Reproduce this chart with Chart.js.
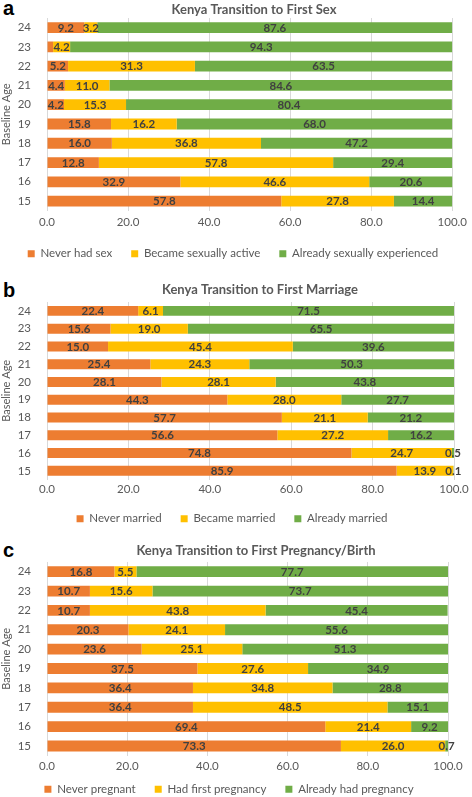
<!DOCTYPE html>
<html>
<head>
<meta charset="utf-8">
<script src="https://cdn.jsdelivr.net/npm/chart.js@4/dist/chart.umd.min.js"></script>
<style>
  html, body { margin: 0; padding: 0; background: #fff; overflow: hidden; }
  body { width: 472px; height: 797px; position: relative; }
  .panel { position: absolute; left: 0; width: 472px; }
  .tag { position: absolute; left: 3px; font: bold 20px 'Liberation Sans', Arial, sans-serif; color: #000; }
</style>
</head>
<body>
<div class="tag" style="top:-3px">a</div>
<div class="tag" style="top:279px">b</div>
<div class="tag" style="top:539px">c</div>
<div class="panel" style="top:0;height:275px"><canvas id="sexChart"></canvas></div>
<div class="panel" style="top:272px;height:268px"><canvas id="marriageChart"></canvas></div>
<div class="panel" style="top:535px;height:283px"><canvas id="pregnancyChart"></canvas></div>
<script>
const ages = ['24', '23', '22', '21', '20', '19', '18', '17', '16', '15'];
const xTicks = [0, 20, 40, 60, 80, 100];

// a - first sex
const neverSex = [9.2, 1.5, 5.2, 4.4, 4.2, 15.8, 16.0, 12.8, 32.9, 57.8];
const becameActive = [3.2, 4.2, 31.3, 11.0, 15.3, 16.2, 36.8, 57.8, 46.6, 27.8];
const alreadySex = [87.6, 94.3, 63.5, 84.6, 80.4, 68.0, 47.2, 29.4, 20.6, 14.4];

// b - first marriage
const neverMarried = [22.4, 15.6, 15.0, 25.4, 28.1, 44.3, 57.7, 56.6, 74.8, 85.9];
const becameMarried = [6.1, 19.0, 45.4, 24.3, 28.1, 28.0, 21.1, 27.2, 24.7, 13.9];
const alreadyMarried = [71.5, 65.5, 39.6, 50.3, 43.8, 27.7, 21.2, 16.2, 0.5, 0.1];

// c - first pregnancy
const neverPregnant = [16.8, 10.7, 10.7, 20.3, 23.6, 37.5, 36.4, 36.4, 69.4, 73.3];
const firstPregnancy = [5.5, 15.6, 43.8, 24.1, 25.1, 27.6, 34.8, 48.5, 21.4, 26.0];
const alreadyPregnant = [77.7, 73.7, 45.4, 55.6, 51.3, 34.9, 28.8, 15.1, 9.2, 0.7];

const colors = ['#ED7D31', '#FFC000', '#70AD47'];
const grey = '#595959';

Chart.defaults.font.family = 'Lato';
Chart.defaults.color = grey;

// value labels inside the segments
const barLabels = {
    id: 'barLabels',
    afterDatasetsDraw(chart, args, opts) {
        const ctx = chart.ctx;
        const hide = opts.hide || [];
        ctx.save();
        ctx.font = 'bold 11.5px Lato';
        ctx.fillStyle = '#404040';
        ctx.textAlign = 'center';
        ctx.textBaseline = 'middle';
        chart.data.datasets.forEach((ds, i) => {
            chart.getDatasetMeta(i).data.forEach((bar, j) => {
                if (hide.includes(i + '-' + j)) return;
                ctx.fillText(ds.data[j].toFixed(1), (bar.x + bar.base) / 2, bar.y + 0.5);
            });
        });
        ctx.restore();
    },
};

// move title / legend a bit like the excel original
const nudge = {
    id: 'nudge',
    afterLayout(chart, args, opts) {
        const t = chart.titleBlock;
        const l = chart.legend;
        if (t) {
            t.left += opts.titleX;
            t.right += opts.titleX;
        }
        if (l) {
            l.top -= opts.legendUp;
            l.bottom -= opts.legendUp;
            l.left += opts.legendX;
            l.right += opts.legendX;
        }
    },
};

function makeChart(id, cfg) {
    const ctx = document.getElementById(id).getContext('2d');
    return new Chart(ctx, {
        type: 'bar',
        data: {
            labels: ages,
            datasets: cfg.names.map((name, i) => ({
                label: name,
                data: cfg.series[i],
                backgroundColor: colors[i],
                categoryPercentage: 1,
                barPercentage: 0.56,
            })),
        },
        options: {
            indexAxis: 'y',
            responsive: true,
            maintainAspectRatio: false,
            animation: false,
            layout: { padding: { top: 0, right: cfg.padRight, bottom: 0, left: 0 } },
            plugins: {
                title: {
                    display: true,
                    text: cfg.title,
                    color: grey,
                    font: { size: 13, weight: 'bold' },
                    padding: { top: cfg.titleTop, bottom: cfg.titleBottom },
                },
                legend: {
                    position: 'bottom',
                    labels: { boxWidth: 7, boxHeight: 7, padding: 19, color: grey, font: { size: 11.5 } },
                },
                tooltip: { enabled: false },
                barLabels: { hide: cfg.hide || [] },
                nudge: { titleX: cfg.titleX, legendUp: cfg.legendUp, legendX: 5 },
            },
            scales: {
                x: {
                    stacked: true,
                    min: 0,
                    max: 100,
                    afterBuildTicks: (scale) => {
                        scale.ticks = xTicks.map((v) => ({ value: v }));
                    },
                    ticks: {
                        padding: cfg.tickPad,
                        color: grey,
                        font: { size: 11.5 },
                        callback: (v) => Number(v).toFixed(1),
                    },
                    grid: { color: '#D9D9D9', drawTicks: false },
                    border: { display: false },
                },
                y: {
                    stacked: true,
                    afterFit: (scale) => {
                        scale.width = 47;
                    },
                    ticks: { padding: 8, color: grey, font: { size: 11.5 }, autoSkip: false },
                    grid: { display: false },
                    border: { display: false },
                    title: {
                        display: true,
                        text: 'Baseline Age',
                        color: grey,
                        font: { size: 11 },
                        padding: { top: 0, bottom: 0 },
                    },
                },
            },
        },
        plugins: [barLabels, nudge],
    });
}

makeChart('sexChart', {
    title: 'Kenya Transition to First Sex',
    names: ['Never had sex', 'Became sexually active', 'Already sexually experienced'],
    series: [neverSex, becameActive, alreadySex],
    hide: ['0-1'],
    titleTop: 2.2,
    titleBottom: 0.2,
    titleX: 26,
    tickPad: 5,
    legendUp: 5.5,
    padRight: 16,
});

makeChart('marriageChart', {
    title: 'Kenya Transition to First Marriage',
    names: ['Never married', 'Became married', 'Already married'],
    series: [neverMarried, becameMarried, alreadyMarried],
    titleTop: 10.2,
    titleBottom: 4.2,
    titleX: 33,
    tickPad: 3,
    legendUp: 5.5,
    padRight: 18,
});

makeChart('pregnancyChart', {
    title: 'Kenya Transition to First Pregnancy/Birth',
    names: ['Never pregnant', 'Had first pregnancy', 'Already had pregnancy'],
    series: [neverPregnant, firstPregnancy, alreadyPregnant],
    titleTop: 8.2,
    titleBottom: 3.2,
    titleX: 32,
    tickPad: 4,
    legendUp: 13,
    padRight: 24,
});
</script>
</body>
</html>
